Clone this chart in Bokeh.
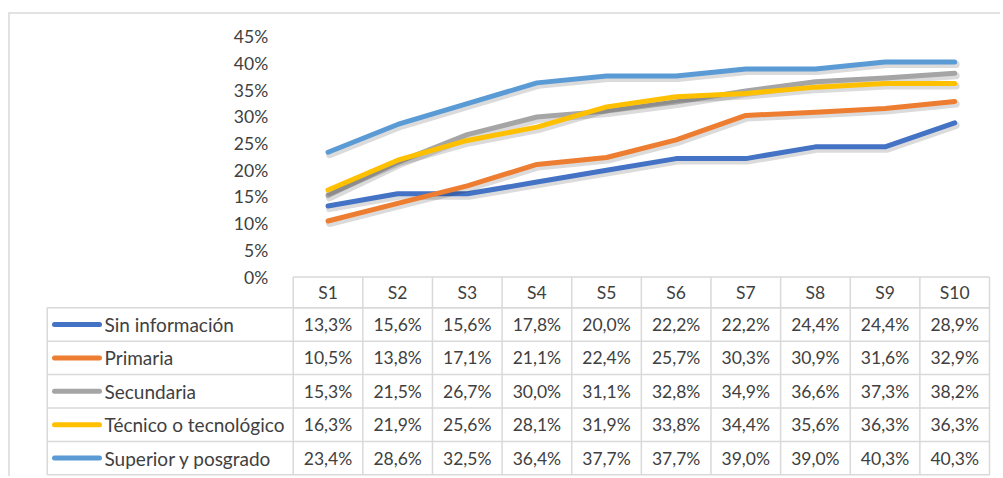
import numpy as np
from bokeh.plotting import figure
from bokeh.models import LinearAxis, FixedTicker, PrintfTickFormatter, Range1d
from bokeh.core.properties import value
from bokeh.embed import file_html
from bokeh.resources import INLINE

# ---------------- data ----------------
categories = ["S1", "S2", "S3", "S4", "S5", "S6", "S7", "S8", "S9", "S10"]
sin_informacion = [13.3, 15.6, 15.6, 17.8, 20.0, 22.2, 22.2, 24.4, 24.4, 28.9]
primaria = [10.5, 13.8, 17.1, 21.1, 22.4, 25.7, 30.3, 30.9, 31.6, 32.9]
secundaria = [15.3, 21.5, 26.7, 30.0, 31.1, 32.8, 34.9, 36.6, 37.3, 38.2]
tecnico = [16.3, 21.9, 25.6, 28.1, 31.9, 33.8, 34.4, 35.6, 36.3, 36.3]
superior = [23.4, 28.6, 32.5, 36.4, 37.7, 37.7, 39.0, 39.0, 40.3, 40.3]
series_names = ["Sin información", "Primaria", "Secundaria",
                "Técnico o tecnológico", "Superior y posgrado"]
y_ticks = [0, 5, 10, 15, 20, 25, 30, 35, 40, 45]

series_values = [sin_informacion, primaria, secundaria, tecnico, superior]
colors = ["#4472C4", "#ED7D31", "#A5A5A5", "#FFC000", "#5B9BD5"]

# ---------------- layout (pixels of the reference) ----------------
W, H = 1000, 476
OX, OY = 0, 0             # reference pixel of the canvas origin
COL_LEFT = 292.7          # left edge of the first value column
COL_W = 69.63             # width of a value column
ZERO_Y = 276.5            # pixel row of 0 %
PX_PER_PCT = 26.667 / 5   # pixels per percentage point
TABLE_LEFT = 46.7
HEADER_TOP, HEADER_BOT = 276.5, 307.3
ROW_H = 33.4
GRID_C = "#d9d9d9"
TEXT_C = "#404040"
FONT = "Lato"


def xd(X):
    return (X - COL_LEFT) / COL_W


def yd(Y):
    return (ZERO_Y - Y) / PX_PER_PCT


n = len(categories)
p = figure(width=W, height=H, output_backend="svg", toolbar_location=None,
           x_axis_type=None, y_axis_type=None,
           x_range=Range1d(xd(OX), xd(OX + W)),
           y_range=Range1d(yd(OY + H), yd(OY)),
           min_border=0, min_border_left=0, min_border_right=0,
           min_border_top=0, min_border_bottom=0)
p.outline_line_color = None
p.background_fill_color = "white"
p.border_fill_color = "white"

# y axis drawn at the left edge of the value columns
yaxis = LinearAxis(fixed_location=0,
                   ticker=FixedTicker(ticks=y_ticks),
                   formatter=PrintfTickFormatter(format="%d%%"))
yaxis.axis_line_color = None
yaxis.major_tick_line_color = None
yaxis.minor_tick_line_color = None
yaxis.major_label_standoff = 19
yaxis.major_label_text_font = FONT
yaxis.major_label_text_font_size = "17.5px"
yaxis.major_label_text_color = TEXT_C
p.add_layout(yaxis, "left")

# outer chart border (top and left)
p.segment(x0=[xd(8), xd(8.5)], y0=[yd(12.5), yd(12)],
          x1=[xd(OX + W), xd(8.5)], y1=[yd(12.5), yd(OY + H)],
          line_color=GRID_C, line_width=1.5)

# ---------------- lines ----------------
xs = np.arange(n) + 0.5
sdx = 1.5 / COL_W
sdy = 2.5 / PX_PER_PCT
for vals, col in zip(series_values, colors):
    v = np.array(vals)
    p.line(xs + sdx, v - sdy, line_color="black", line_alpha=0.14,
           line_width=7, line_cap="round", line_join="round")
    p.line(xs, v, line_color=col, line_width=5,
           line_cap="round", line_join="round")

# ---------------- data table ----------------
table_bottom = HEADER_BOT + ROW_H * len(series_names)
row_tops = [HEADER_BOT + ROW_H * i for i in range(len(series_names) + 1)]

# header row border
hx0 = [0, 0]
hx1 = [n, n]
hy = [yd(HEADER_TOP), yd(HEADER_BOT)]
p.segment(x0=hx0, y0=hy, x1=hx1, y1=hy, line_color=GRID_C, line_width=1.5)
# row borders spanning legend column
rx0 = [xd(TABLE_LEFT)] * len(row_tops)
rx1 = [n] * len(row_tops)
ry = [yd(Y) for Y in row_tops]
p.segment(x0=rx0, y0=ry, x1=rx1, y1=ry, line_color=GRID_C, line_width=1.5)
# vertical borders
vx = list(range(n + 1))
p.segment(x0=vx, y0=[yd(HEADER_TOP)] * len(vx), x1=vx,
          y1=[yd(table_bottom)] * len(vx), line_color=GRID_C, line_width=1.5)
p.segment(x0=[xd(TABLE_LEFT)], y0=[yd(HEADER_BOT)], x1=[xd(TABLE_LEFT)],
          y1=[yd(table_bottom)], line_color=GRID_C, line_width=1.5)

# header labels
p.text(x=xs, y=[yd((HEADER_TOP + HEADER_BOT) / 2)] * n, text=categories,
       text_font=value(FONT), text_font_size="17.5px", text_color=TEXT_C,
       text_align="center", text_baseline="middle")

# rows
for i, (name, vals, col) in enumerate(zip(series_names, series_values, colors)):
    yc = yd(HEADER_BOT + ROW_H * (i + 0.5))
    labels = [f"{v:.1f}%".replace(".", ",") for v in vals]
    p.text(x=xs, y=[yc] * n, text=labels,
           text_font=value(FONT), text_font_size="17.5px", text_color=TEXT_C,
           text_align="center", text_baseline="middle")
    p.segment(x0=[xd(54)], y0=[yc], x1=[xd(99)], y1=[yc],
              line_color=col, line_width=5, line_cap="round")
    p.text(x=[xd(104)], y=[yc], text=[name],
           text_font=value(FONT), text_font_size="19px", text_color=TEXT_C,
           text_align="left", text_baseline="middle")

open("out.html", "w").write(file_html(p, INLINE))
